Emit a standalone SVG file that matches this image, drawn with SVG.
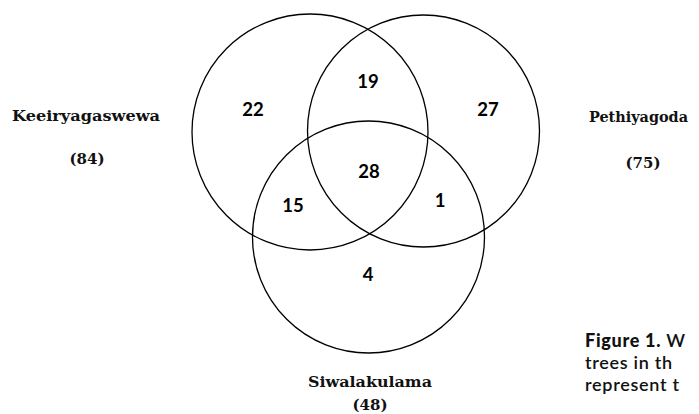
<svg xmlns="http://www.w3.org/2000/svg" width="699" height="414" viewBox="0 0 699 414">
<style>
.c{fill:none;stroke:#000;stroke-width:1.3}
.n{font-family:Lato,"Open Sans","Liberation Sans",sans-serif;font-weight:bold;font-size:18.5px;fill:#000;text-anchor:middle}
.l{font-family:"DejaVu Serif","Liberation Serif",serif;font-weight:bold;font-size:14px;fill:#111;text-anchor:middle}
.p{font-size:15px}
.cap{font-family:Lato,"Noto Sans",sans-serif;font-size:18px;font-weight:600;fill:#111;letter-spacing:0.7px}
</style>
<rect width="699" height="414" fill="#fff"/>
<g id="set-keeiryagaswewa">
<circle class="c" cx="310" cy="132" r="118"/>
<text class="l" x="86" y="121" textLength="148" lengthAdjust="spacingAndGlyphs">Keeiryagaswewa</text>
<text class="l p" x="87" y="164">(84)</text>
</g>
<g id="set-pethiyagoda">
<circle class="c" cx="423.5" cy="131" r="116"/>
<text class="l" x="638.5" y="122" textLength="99" lengthAdjust="spacingAndGlyphs">Pethiyagoda</text>
<text class="l p" x="643" y="168">(75)</text>
</g>
<g id="set-siwalakulama">
<circle class="c" cx="368.5" cy="237" r="116"/>
<text class="l" x="370" y="387" textLength="124" lengthAdjust="spacingAndGlyphs">Siwalakulama</text>
<text class="l p" x="370" y="410">(48)</text>
</g>
<g id="counts">
<text class="n" x="253" y="116">22</text>
<text class="n" x="368" y="88">19</text>
<text class="n" x="488" y="116">27</text>
<text class="n" x="369" y="178">28</text>
<text class="n" x="293" y="212">15</text>
<text class="n" x="440" y="207">1</text>
<text class="n" x="368" y="281">4</text>
</g>
<g id="caption">
<text class="cap" x="585" y="347"><tspan font-weight="900">Figure 1.</tspan> W</text>
<text class="cap" x="585" y="369">trees in th</text>
<text class="cap" x="585" y="391">represent t</text>
</g>
</svg>
